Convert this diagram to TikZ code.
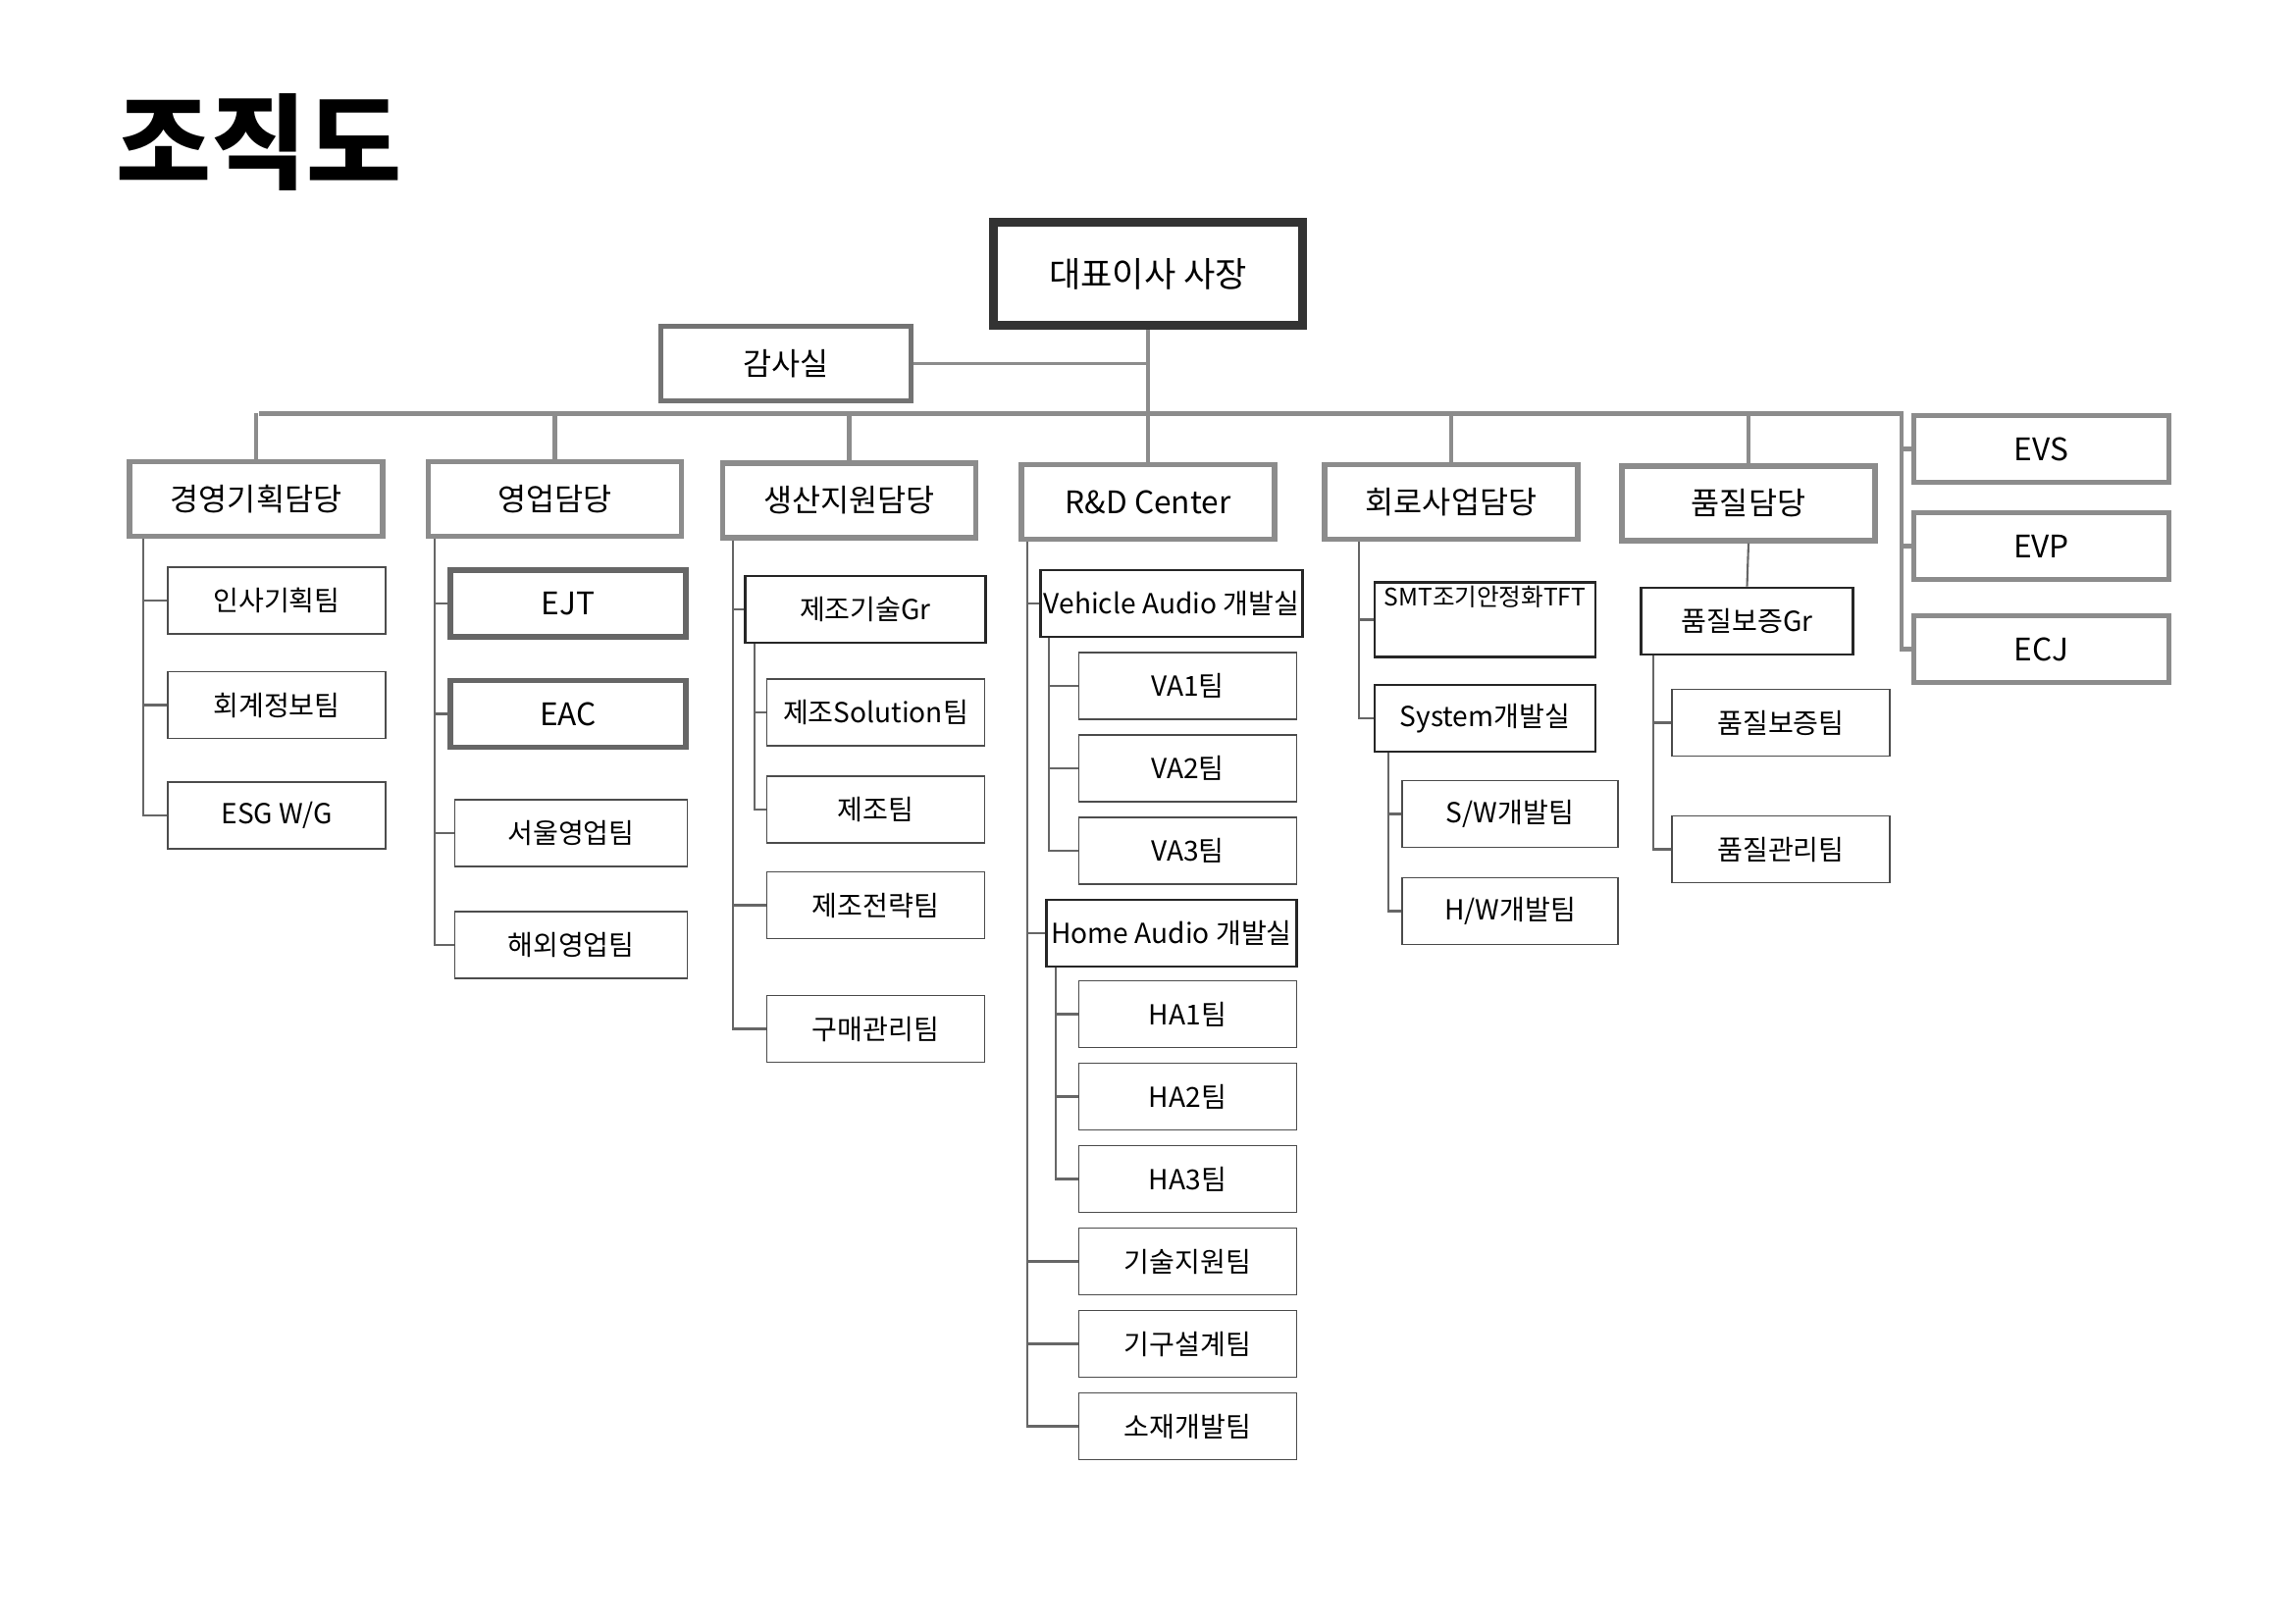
\documentclass[tikz,border=0pt]{standalone}
\usepackage{fontspec}
\setmainfont{Noto Sans CJK KR}
\usetikzlibrary{positioning}

\begin{document}
\begin{tikzpicture}[x=0.015cm, y=-0.015cm]

        % box looks
        \tikzset{
            ceobox/.style={draw=black!80, line width=2.6pt, minimum width=3.15cm,
                minimum height=1.05cm, font=\fontsize{10}{12}\selectfont},
            headbox/.style={draw=black!45, line width=1.5pt, minimum width=2.58cm,
                minimum height=0.76cm, font=\fontsize{9}{11}\selectfont},
            grpbox/.style={draw=black!85, line width=0.8pt, minimum width=2.45cm,
                minimum height=0.68cm, inner sep=1pt, font=\fontsize{8}{10}\selectfont},
            teambox/.style={draw=black!70, line width=0.5pt, minimum width=2.22cm,
                minimum height=0.68cm, font=\fontsize{8}{10}\selectfont},
            link/.style={draw=black!60, line width=0.6pt},
            buslink/.style={draw=black!45, line width=1.4pt}
        }

        \useasboundingbox (0,0) rectangle (1560,1103);

        \node (Title) at (176,97) {\fontsize{30}{34}\selectfont\bfseries 조직도};

        % top level
        \node[ceobox] (CEO) at (780,186) {대표이사 사장};
        \node[headbox, minimum width=2.55cm, draw=black!55] (Audit) at (534,247) {감사실};

        % heads
        \node[headbox] (H1) at (174,339) {경영기획담당};
        \node[headbox] (H2) at (377,339) {영업담당};
        \node[headbox] (H3) at (577,340) {생산지원담당};
        \node[headbox] (H4) at (780,341) {R\&D Center};
        \node[headbox] (H5) at (986,341) {회로사업담당};
        \node[headbox] (H6) at (1188,342) {품질담당};
        \node[headbox, minimum width=2.6cm, minimum height=0.68cm] (E1) at (1387,305) {EVS};
        \node[headbox, minimum width=2.6cm, minimum height=0.68cm] (E2) at (1387,371) {EVP};
        \node[headbox, minimum width=2.6cm, minimum height=0.68cm] (E3) at (1387,441) {ECJ};
        \coordinate (Bus) at (780,281);
        \coordinate (BusL) at (176,281);
        \coordinate (BusR) at (1292,281);

        % 경영기획담당
        \node[teambox] (A1) at (188,408) {인사기획팀};
        \node[teambox] (A2) at (188,479) {회계정보팀};
        \node[teambox] (A3) at (188,554) {ESG W/G};

        % 영업담당
        \node[headbox, minimum width=2.4cm, minimum height=0.68cm, draw=black!60] (B1) at (386,410) {EJT};
        \node[headbox, minimum width=2.4cm, minimum height=0.68cm, draw=black!60] (B2) at (386,485) {EAC};
        \node[teambox, minimum width=2.37cm] (B3) at (388,566) {서울영업팀};
        \node[teambox, minimum width=2.37cm] (B4) at (388,642) {해외영업팀};

        % 생산지원담당
        \node[grpbox] (C0) at (588,414) {제조기술Gr};
        \node[teambox] (C1) at (595,484) {제조Solution팀};
        \node[teambox] (C2) at (595,550) {제조팀};
        \node[teambox] (C3) at (595,615) {제조전략팀};
        \node[teambox] (C4) at (595,699) {구매관리팀};

        % R&D Center
        \node[grpbox, minimum width=2.55cm] (D0) at (796,410) {Vehicle Audio 개발실};
        \node[teambox] (D1) at (807,466) {VA1팀};
        \node[teambox] (D2) at (807,522) {VA2팀};
        \node[teambox] (D3) at (807,578) {VA3팀};
        \node[grpbox, minimum width=2.55cm] (F0) at (796,634) {Home Audio 개발실};
        \node[teambox] (F1) at (807,689) {HA1팀};
        \node[teambox] (F2) at (807,745) {HA2팀};
        \node[teambox] (F3) at (807,801) {HA3팀};
        \node[teambox] (D4) at (807,857) {기술지원팀};
        \node[teambox] (D5) at (807,913) {기구설계팀};
        \node[teambox] (D6) at (807,969) {소재개발팀};

        % 회로사업담당
        \node[grpbox, minimum width=2.25cm, minimum height=0.72cm, align=center,
            font=\fontsize{7}{8}\selectfont] (G0) at (1009,421) {SMT조기안정화TFT\\[6pt]\,};
        \node[grpbox, minimum width=2.25cm] (G1) at (1009,488) {System개발실};
        \node[teambox, minimum width=2.2cm] (G2) at (1026,553) {S/W개발팀};
        \node[teambox, minimum width=2.2cm] (G3) at (1026,619) {H/W개발팀};

        % 품질담당
        \node[grpbox, minimum width=2.16cm] (K0) at (1187,422) {품질보증Gr};
        \node[teambox] (K1) at (1210,491) {품질보증팀};
        \node[teambox] (K2) at (1210,577) {품질관리팀};

        % connectors
        \draw[buslink] (CEO.south) -- (Bus);
        \draw[link, draw=black!45] (Audit.east) -- (Audit.east -| CEO.south);
        \draw[buslink] (BusL) -- (BusR) -- (BusR |- E3.west) -- (E3.west);
        \draw[buslink] (BusR |- E1.west) -- (E1.west);
        \draw[buslink] (BusR |- E2.west) -- (E2.west);
        \foreach\x in {1,...,6}
            \draw[buslink] (Bus -| H\x.north) -- (H\x.north);

        \foreach\x in {1,...,3}
            \draw[link] (H1.south west) ++(11,0) |- (A\x.west);
        \foreach\x in {1,...,4}
            \draw[link] (H2.south west) ++(6,0) |- (B\x.west);
        \foreach\x in {0,3,4}
            \draw[link] (H3.south west) ++(9,0) |- (C\x.west);
        \foreach\x in {1,2}
            \draw[link] (C0.south west) ++(7,0) |- (C\x.west);
        \foreach\x in {0,4,5,6}
            \draw[link] (H4.south west) ++(6,0) |- (D\x.west);
        \draw[link] (H4.south west) ++(6,0) |- (F0.west);
        \foreach\x in {1,...,3}
            \draw[link] (D0.south west) ++(7,0) |- (D\x.west);
        \foreach\x in {1,...,3}
            \draw[link] (F0.south west) ++(7,0) |- (F\x.west);
        \foreach\x in {0,1}
            \draw[link] (H5.south west) ++(25,0) |- (G\x.west);
        \foreach\x in {2,3}
            \draw[link] (G1.south west) ++(10,0) |- (G\x.west);
        \draw[link] (H6.south) -- (K0.north);
        \foreach\x in {1,2}
            \draw[link] (K0.south west) ++(9,0) |- (K\x.west);

\end{tikzpicture}
\end{document}
